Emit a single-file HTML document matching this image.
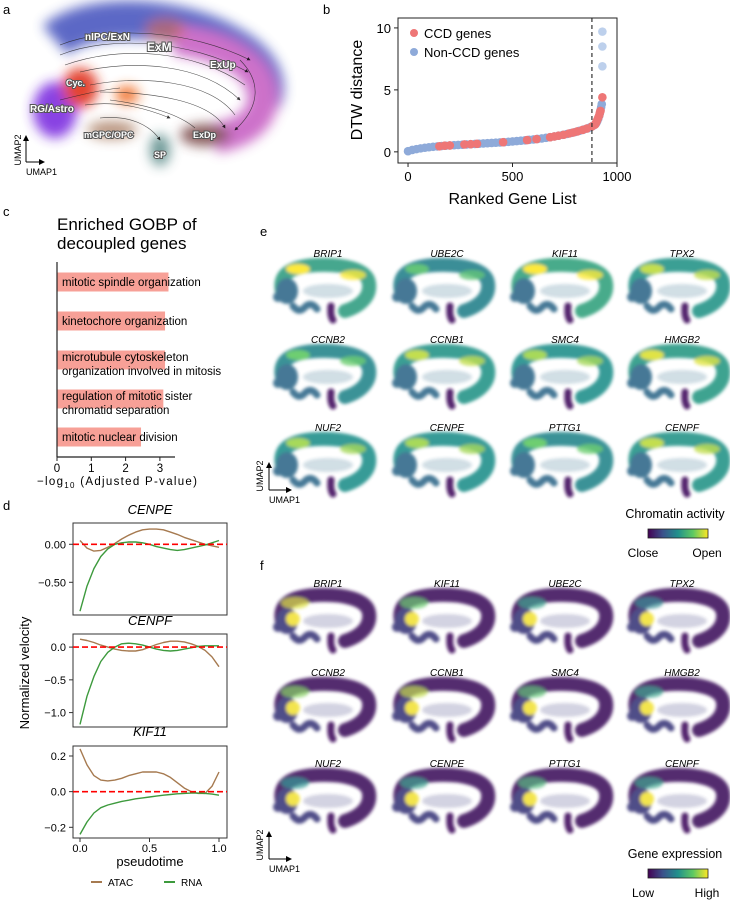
<!DOCTYPE html>
<html><head><meta charset="utf-8"><style>
body{margin:0;background:#fff}
svg{display:block;font-family:"Liberation Sans",Arial,sans-serif}
</style></head><body>
<svg id="fig" width="730" height="900" viewBox="0 0 730 900">
<defs>
<filter id="blur6" x="-30%" y="-30%" width="160%" height="160%"><feGaussianBlur stdDeviation="6"/></filter>
<filter id="blur2" x="-30%" y="-30%" width="160%" height="160%"><feGaussianBlur stdDeviation="1.6"/></filter>
<linearGradient id="viridis" x1="0" x2="1"><stop offset="0" stop-color="#440154"/><stop offset=".25" stop-color="#3b528b"/><stop offset=".5" stop-color="#21918c"/><stop offset=".75" stop-color="#5ec962"/><stop offset="1" stop-color="#fde725"/></linearGradient>
<marker id="arr" markerWidth="6" markerHeight="6" refX="5" refY="3" orient="auto"><path d="M0,0 L6,3 L0,6z" fill="#000"/></marker>
</defs>

<!-- panel letters -->
<text x="3" y="14" font-size="13">a</text>
<text x="323" y="14" font-size="13">b</text>
<text x="3" y="216" font-size="13">c</text>
<text x="3" y="510" font-size="13">d</text>
<text x="260" y="236" font-size="13">e</text>
<text x="260" y="570" font-size="13">f</text>

<!-- Panel a -->
<g id="panelA">
<g filter="url(#blur6)" opacity="0.9">
<path d="M55,40 C90,10 180,15 230,45 C262,62 270,85 262,100" fill="none" stroke="#4c58c0" stroke-width="38"/>
<path d="M175,40 C230,45 268,70 262,105 C258,125 235,135 215,138" fill="none" stroke="#c862c4" stroke-width="30"/>
<ellipse cx="55" cy="110" rx="22" ry="28" fill="#7d2ee0"/>
<ellipse cx="80" cy="88" rx="18" ry="20" fill="#e0301e"/>
<ellipse cx="127" cy="95" rx="12" ry="9" fill="#f06a20"/>
<ellipse cx="112" cy="130" rx="25" ry="9" fill="#b28a72"/>
<ellipse cx="160" cy="150" rx="10" ry="16" fill="#5f8e8c"/>
<ellipse cx="205" cy="135" rx="25" ry="11" fill="#7a4a48"/>
<ellipse cx="165" cy="30" rx="20" ry="12" fill="#d85a3a" opacity=".6"/>
</g>
<g fill="none" stroke="#222" stroke-width="0.6" opacity="0.8">
<path d="M60,45 C110,25 190,30 250,60" marker-end="url(#arr)"/>
<path d="M60,55 C110,35 190,40 248,72" marker-end="url(#arr)"/>
<path d="M65,65 C120,45 195,50 245,85"/>
<path d="M80,72 C130,60 200,62 240,100" marker-end="url(#arr)"/>
<path d="M90,85 C140,75 210,80 235,115"/>
<path d="M100,92 C150,92 210,100 225,128" marker-end="url(#arr)"/>
<path d="M110,100 C150,105 180,115 195,128"/>
<path d="M85,105 C120,100 150,110 170,118" marker-end="url(#arr)"/>
<path d="M60,100 C80,95 100,90 120,88"/>
<path d="M100,118 C130,115 150,125 160,140" marker-end="url(#arr)"/>
<path d="M240,60 C260,80 262,105 235,130" marker-end="url(#arr)"/>
</g>
<g font-weight="bold" fill="#fff" stroke="#555" stroke-width="2" paint-order="stroke" font-size="10">
<text x="85" y="40">nIPC/ExN</text>
<text x="147" y="51" font-size="12">ExM</text>
<text x="210" y="68">ExUp</text>
<text x="66" y="86" font-size="9">Cyc.</text>
<text x="30" y="112">RG/Astro</text>
<text x="84" y="138" font-size="9">mGPC/OPC</text>
<text x="193" y="138" font-size="9">ExDp</text>
<text x="154" y="158" font-size="9">SP</text>
</g>
<g>
<path d="M26,162 V136" fill="none" stroke="#000" stroke-width="1" marker-end="url(#arr)"/>
<path d="M26,162 H44" fill="none" stroke="#000" stroke-width="1" marker-end="url(#arr)"/>
</g>
<text x="21" y="150" font-size="9" transform="rotate(-90 21 150)" text-anchor="middle">UMAP2</text>
<text x="26" y="175" font-size="9">UMAP1</text>
</g>

<!-- Panel b -->
<g id="panelB"></g>

<!-- Panel c -->
<g id="panelC">
<text x="57" y="230" font-size="17">Enriched GOBP of</text>
<text x="57" y="249" font-size="17">decoupled genes</text>
</g>

<!-- Panel d -->
<g id="panelD"></g>

<!-- Panels e/f -->
<g id="panelE"></g>
<g id="panelF"></g>
</svg>
<script>
// ---------- Panel b data ----------
const bRanks = [0,20,40,60,80,100,120,140,160,180,200,220,240,260,280,300,320,340,360,380,400,420,440,460,480,500,520,540,560,580,600,620,640,660,680,700,720,740,760,780,800,820,840,860,870,880,890,900,905,910,915,918,921,924,927];
const bDist = [0.05,0.15,0.22,0.28,0.33,0.37,0.41,0.44,0.47,0.5,0.52,0.54,0.56,0.58,0.6,0.62,0.64,0.66,0.68,0.7,0.72,0.74,0.76,0.78,0.81,0.84,0.87,0.9,0.93,0.97,1.0,1.04,1.08,1.13,1.18,1.24,1.3,1.37,1.44,1.52,1.6,1.7,1.8,1.9,1.97,2.05,2.15,2.3,2.45,2.65,2.9,3.1,3.35,3.6,3.85];
const ccdRanks = [150,175,200,270,300,330,455,570,615,680,700,720,745,770,790,810,835,855,880,895,900,905,910,915,918,921,930];
const ccdDist = [0.45,0.5,0.52,0.6,0.62,0.65,0.78,0.95,1.03,1.18,1.24,1.3,1.38,1.48,1.56,1.65,1.77,1.88,2.05,2.2,2.35,2.55,2.75,2.95,3.15,3.3,4.4];
const outRanks = [930,930,930];
const outDist = [6.9,8.5,9.7];
const bXTicks = [0,500,1000];
const bYTicks = [0,5,10];
const bCutoff = 880;

// ---------- Panel c data ----------
const cTerms = [["mitotic spindle organization"],["kinetochore organization"],["microtubule cytoskeleton","organization involved in mitosis"],["regulation of mitotic sister","chromatid separation"],["mitotic nuclear division"]];
const cValues = [3.25,3.15,3.15,3.1,2.45];
const cTicks = [0,1,2,3];

// ---------- Panel d data ----------
const dT = [0,.05,.1,.15,.2,.25,.3,.35,.4,.45,.5,.55,.6,.65,.7,.75,.8,.85,.9,.95,1];
const cenpeAtac = [0.05,-0.05,-0.09,-0.08,-0.04,0.01,0.07,0.12,0.16,0.19,0.2,0.2,0.19,0.16,0.13,0.09,0.06,0.03,0.0,-0.02,-0.04];
const cenpeRna = [-0.88,-0.55,-0.32,-0.16,-0.06,0.0,0.02,0.03,0.03,0.02,0.0,-0.03,-0.05,-0.07,-0.08,-0.07,-0.05,-0.03,-0.01,0.02,0.05];
const cenpfAtac = [0.12,0.1,0.07,0.03,0.0,-0.03,-0.05,-0.06,-0.06,-0.04,0.0,0.04,0.07,0.09,0.09,0.08,0.05,0.01,-0.05,-0.15,-0.3];
const cenpfRna = [-1.18,-0.75,-0.45,-0.22,-0.08,0.0,0.05,0.06,0.05,0.03,0.0,-0.03,-0.05,-0.06,-0.05,-0.03,-0.01,0.01,0.02,0.02,0.02];
const kif11Atac = [0.24,0.15,0.09,0.065,0.06,0.065,0.075,0.09,0.1,0.11,0.11,0.11,0.1,0.08,0.05,0.02,0.0,-0.01,-0.01,0.03,0.11];
const kif11Rna = [-0.24,-0.17,-0.12,-0.09,-0.075,-0.065,-0.055,-0.048,-0.04,-0.035,-0.03,-0.025,-0.02,-0.016,-0.012,-0.01,-0.008,-0.008,-0.01,-0.014,-0.02];
const dXTicks = [0,0.5,1];

// ---------- Panel e/f data ----------
const eGenes = ["BRIP1","UBE2C","KIF11","TPX2","CCNB2","CCNB1","SMC4","HMGB2","NUF2","CENPE","PTTG1","CENPF"];
const fGenes = ["BRIP1","KIF11","UBE2C","TPX2","CCNB2","CCNB1","SMC4","HMGB2","NUF2","CENPE","PTTG1","CENPF"];
const eLevel = [0.65,0.35,0.7,0.55,0.4,0.55,0.5,0.6,0.5,0.5,0.4,0.55];
const fLevel = [0.75,0.55,0.35,0.25,0.6,0.7,0.5,0.35,0.3,0.35,0.45,0.35];

const NS="http://www.w3.org/2000/svg";
function mk(tag,attrs,parent){const e=document.createElementNS(NS,tag);for(const k in attrs)e.setAttribute(k,attrs[k]);if(parent)parent.appendChild(e);return e;}
function txt(s,attrs,parent){const e=mk('text',attrs,parent);e.textContent=s;return e;}

// ===== Panel b =====
(function(){
 const g=document.getElementById('panelB');
 const L=398,R=617,T=18,B=163,x0=-48,x1=1000,y0=-0.9,y1=10.8;
 const sx=v=>L+(v-x0)/(x1-x0)*(R-L), sy=v=>B-(v-y0)/(y1-y0)*(B-T);
 bRanks.forEach((r,i)=>{const c=mk('circle',{cx:sx(r),cy:sy(bDist[i]),r:4.3,fill:'#8eaad9'},g);
  
  });
 ccdRanks.forEach((r,i)=>{const c=mk('circle',{cx:sx(r),cy:sy(ccdDist[i]),r:4.3,fill:'#ee7676'},g);
  
  });
 outRanks.forEach((r,i)=>{const c=mk('circle',{cx:sx(r),cy:sy(outDist[i]),r:4.3,fill:'#bdd0ec'},g);
  
  });
 const dl=mk('line',{x1:sx(bCutoff),x2:sx(bCutoff),y1:T,y2:B,stroke:'#333','stroke-width':1.2,'stroke-dasharray':'4,3'},g);
 
 
 const box=mk('rect',{x:L,y:T,width:R-L,height:B-T,fill:'none',stroke:'#222','stroke-width':1},g);
 
 
 bXTicks.forEach(v=>{mk('line',{x1:sx(v),x2:sx(v),y1:B,y2:B+4,stroke:'#222'},g);
  const t=txt(String(v),{x:sx(v),y:B+18,'font-size':13,'text-anchor':'middle'},g);
  
  });
 bYTicks.forEach(v=>{mk('line',{x1:L-4,x2:L,y1:sy(v),y2:sy(v),stroke:'#222'},g);
  const t=txt(String(v),{x:L-7,y:sy(v)+5,'font-size':13,'text-anchor':'end'},g);
  
  });
 const xl=txt('Ranked Gene List',{x:(L+R)/2+5,y:204,'font-size':16,'text-anchor':'middle'},g);
 
 
 const yl=txt('DTW distance',{x:362,y:90,'font-size':16,'text-anchor':'middle',transform:'rotate(-90 362 90)'},g);
 
 
 [['CCD genes','#ee7676',33],['Non-CCD genes','#8eaad9',52]].forEach(([s,c,y])=>{
  const lg=mk('g',{},g);
  
  
  mk('circle',{cx:414,cy:y,r:4,fill:c},lg);
  txt(s,{x:424,y:y+5,'font-size':13},lg);});
})();

// ===== Panel c =====
(function(){
 const g=document.getElementById('panelC');
 const L=57,sx=v=>L+v*34.3, B=457;
 const rowY=[282,321,360,399,437];
 cValues.forEach((v,i)=>{
  const r=mk('rect',{x:L,y:rowY[i]-9.5,width:sx(v)-L,height:19,fill:'#f7a097'},g);
  
  
  const lines=cTerms[i];
  lines.forEach((s,j)=>{const t=txt(s,{x:62,y:rowY[i]+4+(lines.length>1?(j*14-3):0),'font-size':11.5},g);
   
   });
 });
 mk('line',{x1:L,x2:L,y1:262,y2:B,stroke:'#222','stroke-width':1.2},g);
 mk('line',{x1:L,x2:175,y1:B,y2:B,stroke:'#222','stroke-width':1.2},g);
 cTicks.forEach(v=>{mk('line',{x1:sx(v),x2:sx(v),y1:B,y2:B+4,stroke:'#222'},g);
  const t=txt(String(v),{x:sx(v),y:B+15,'font-size':11.5,'text-anchor':'middle'},g);
  
  });
 const xl=mk('text',{x:37,y:485,'font-size':11.5,'letter-spacing':'1.3'},g);
 xl.innerHTML='−log<tspan font-size="8" dy="3">10</tspan><tspan dy="-3"> (Adjusted P-value)</tspan>';
 
 
})();

// ===== Panel d =====
(function(){
 const g=document.getElementById('panelD');
 const L=73,R=227,sx=v=>80+v*139;
 const panels=[
  {name:'CENPE',title:514,T:523,B:615,yTop:0.28,yBot:-0.93,ticks:[0,-0.5],fmt:v=>v.toFixed(2),a:cenpeAtac,r:cenpeRna},
  {name:'CENPF',title:625,T:634,B:727,yTop:0.2,yBot:-1.22,ticks:[0,-0.5,-1],fmt:v=>v.toFixed(1),a:cenpfAtac,r:cenpfRna},
  {name:'KIF11',title:736,T:746,B:838,yTop:0.256,yBot:-0.26,ticks:[0.2,0,-0.2],fmt:v=>v.toFixed(1),a:kif11Atac,r:kif11Rna}];
 panels.forEach((p,pi)=>{
  const sy=v=>p.T+(p.yTop-v)/(p.yTop-p.yBot)*(p.B-p.T);
  const pg=mk('g',{},g);
  
  
  const tt=txt(p.name,{x:150,y:p.title,'font-size':13,'font-style':'italic','text-anchor':'middle'},pg);
  
  
  mk('rect',{x:L,y:p.T,width:R-L,height:p.B-p.T,fill:'none',stroke:'#333'},pg);
  p.ticks.forEach(v=>{mk('line',{x1:L-4,x2:L,y1:sy(v),y2:sy(v),stroke:'#333'},pg);
   const t=txt(p.fmt(v).replace('-','−'),{x:L-7,y:sy(v)+4,'font-size':11,'text-anchor':'end'},pg);
   
   });
  const line=(arr,col,nm)=>{const d=arr.map((v,i)=>(i?'L':'M')+sx(dT[i]).toFixed(1)+','+sy(v).toFixed(1)).join(' ');
   const pth=mk('path',{d:d,fill:'none',stroke:col,'stroke-width':1.4,'stroke-linejoin':'round'},pg);
   
   };
  line(p.a,'#a67a50','atac-line');
  line(p.r,'#3d9a3d','rna-line');
  const z=mk('line',{x1:L,x2:R,y1:sy(0),y2:sy(0),stroke:'#f00','stroke-width':1.6,'stroke-dasharray':'6,3'},pg);
  
  
  if(pi===2){dXTicks.forEach(v=>{mk('line',{x1:sx(v),x2:sx(v),y1:p.B,y2:p.B+4,stroke:'#333'},pg);
   const t=txt(v.toFixed(1),{x:sx(v),y:p.B+14,'font-size':11,'text-anchor':'middle'},pg);
   
   });}
 });
 const xl=txt('pseudotime',{x:150,y:866,'font-size':13,'text-anchor':'middle'},g);
 
 
 const yl=txt('Normalized velocity',{x:29,y:673,'font-size':13,'text-anchor':'middle',transform:'rotate(-90 29 673)'},g);
 
 
 [['ATAC','#a67a50',91],['RNA','#3d9a3d',164]].forEach(([s,c,x])=>{
  const lg=mk('g',{},g);
  
  
  mk('line',{x1:x,x2:x+11,y1:882,y2:882,stroke:c,'stroke-width':2},lg);
  txt(s,{x:x+17,y:886,'font-size':10},lg);});
})();

// ===== Panels e/f tiles =====
function viridis(t){const s=[[68,1,84],[59,82,139],[33,145,140],[94,201,98],[253,231,37]];
 t=Math.max(0,Math.min(1,t));const f=t*4,i=Math.min(3,Math.floor(f)),u=f-i;
 return 'rgb('+s[i].map((c,k)=>Math.round(c+(s[i+1][k]-c)*u)).join(',')+')';}
function tile(parent,x,y,lvl,mode,name){
 const g=mk('g',{transform:'translate('+x+','+y+')'},parent);
 
 
 const base = mode==='e'? viridis(0.3+lvl*0.4) : viridis(0.06);
 const mid = mode==='e'? viridis(0.35) : viridis(0.18);
 const hi = mode==='e'? viridis(Math.min(1,lvl+0.35)) : viridis(Math.min(1,lvl+0.2));
 const b=mk('g',{filter:'url(#blur2)',opacity:0.9},g);
 mk('path',{d:'M9,30 C5,12 20,5 45,4 C70,3 94,8 96,22 C98,35 88,45 72,50',fill:'none',stroke:base,'stroke-width':14,'stroke-linecap':'round'},b);
 mk('ellipse',{cx:14,cy:30,rx:11,ry:13,fill:mid},b);
 mk('circle',{cx:5,cy:36,r:5,fill:mid},b);
 mk('path',{d:'M20,45 Q26,53 32,46 Q38,40 44,48',fill:'none',stroke:mid,'stroke-width':7,'stroke-linecap':'round'},b);
 mk('path',{d:'M58,45 Q57,55 60,59',fill:'none',stroke:viridis(0.05),'stroke-width':7,'stroke-linecap':'round'},b);
 mk('ellipse',{cx:55,cy:30,rx:25,ry:7,fill:mid,opacity:.25},b);
 if(mode==='e'){
  mk('ellipse',{cx:25,cy:8,rx:12,ry:5,fill:hi},b);
  mk('ellipse',{cx:80,cy:14,rx:13,ry:5,fill:hi,opacity:.8},b);
 } else {
  mk('ellipse',{cx:22,cy:12,rx:14,ry:6,fill:hi,opacity:.7},b);
  mk('circle',{cx:20,cy:28,r:7,fill:'#f2e23a'},b);
 }
 const t=txt(name,{x:55,y:-4,'font-size':10,'font-style':'italic','text-anchor':'middle'},g);
 
 
}
function grid(id,genes,lv,mode,rowTops){
 const p=document.getElementById(id);
 const xs=[273,392,510,627];
 genes.forEach((gname,i)=>tile(p,xs[i%4],rowTops[Math.floor(i/4)],lv[i],mode,gname));
}
grid('panelE',eGenes,eLevel,'e',[261,347,435]);
grid('panelF',fGenes,fLevel,'f',[591,680,771]);

function cbar(y,title,lo,hi,tname){
 const s=document.getElementById('fig');
 const g=mk('g',{},s);
 
 
 txt(title,{x:675,y:y,'font-size':12.5,'text-anchor':'middle'},g);
 mk('rect',{x:648,y:y+11,width:60,height:9,fill:'url(#viridis)',stroke:'#222','stroke-width':0.8},g);
 txt(lo,{x:643,y:y+39,'font-size':12,'text-anchor':'middle'},g);
 txt(hi,{x:707,y:y+39,'font-size':12,'text-anchor':'middle'},g);
}
cbar(518,'Chromatin activity','Close','Open','chromatin-colorbar');
cbar(858,'Gene expression','Low','High','expression-colorbar');

function smallAxes(y){
 const s=document.getElementById('fig');
 const g=mk('g',{},s);
 
 
 mk('path',{d:'M269,'+y+' V'+(y-27),fill:'none',stroke:'#000','marker-end':'url(#arr)'},g);
 mk('path',{d:'M269,'+y+' H'+291,fill:'none',stroke:'#000','marker-end':'url(#arr)'},g);
 txt('UMAP2',{x:263,y:y-14,'font-size':9,'text-anchor':'middle',transform:'rotate(-90 263 '+(y-14)+')'},g);
 txt('UMAP1',{x:269,y:y+13,'font-size':9},g);
}
smallAxes(490);
smallAxes(859);
</script>
</body></html>
